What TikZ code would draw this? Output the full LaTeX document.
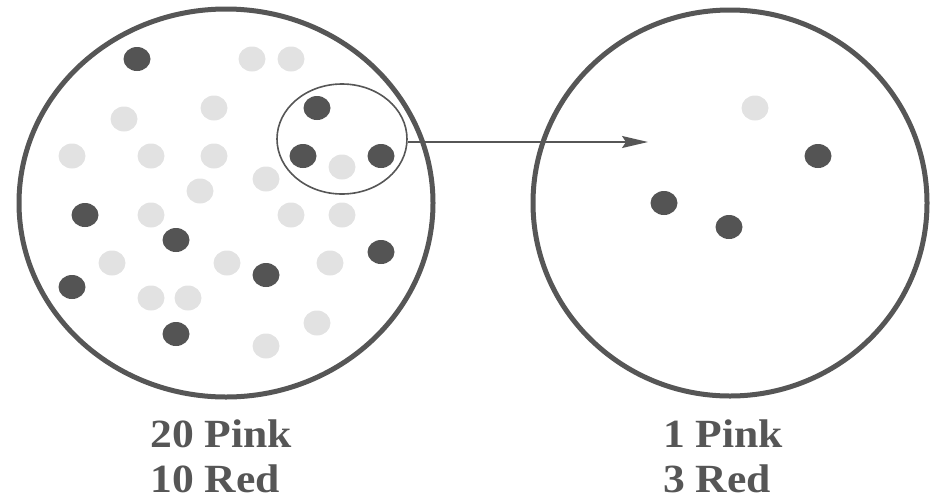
\documentclass[tikz,border=0pt]{standalone}
\usepackage{fontspec}
\setmainfont{Liberation Serif}
\newfontfamily\lblfont[FakeStretch=1.09]{Liberation Serif}
\usetikzlibrary{shapes.geometric,arrows.meta}
\definecolor{inkgray}{HTML}{565656}
\definecolor{pinkdot}{HTML}{E2E2E2}
\definecolor{reddot}{HTML}{545454}
\tikzset{
  jar/.style={draw=inkgray, line width=5pt, ellipse, inner sep=0pt},
  reddotstyle/.style={fill=reddot, ellipse, inner sep=0pt, minimum width=27pt, minimum height=24pt},
  pinkdotstyle/.style={fill=pinkdot, ellipse, inner sep=0pt, minimum width=27pt, minimum height=25pt},
  lbl/.style={text=inkgray, font=\lblfont\bfseries\fontsize{40}{45}\selectfont, anchor=base west, inner sep=0pt, text depth=0pt},
}
\begin{document}
\begin{tikzpicture}[x=1pt,y=-1pt]
\useasboundingbox (0,0) rectangle (933,499);
% jars
\node[jar, minimum width=414pt, minimum height=388pt] (left) at (226,203) {};
\node[jar, minimum width=394pt, minimum height=386pt] (right) at (730,203) {};
% red dots left
\foreach \x/\y [count=\i] in {137/59,317/108,303/156,381/156,85/215,176/240,381/252,72/287,266/275,176/334}
  \node[reddotstyle] (r\i) at (\x,\y) {};
% pink dots left
\foreach \x/\y [count=\i] in {252/59,291/59,214/108,124/119,72/156,151/156,214/156,342/167,266/179,200/191,151/215,291/215,342/215,112/263,227/263,330/263,151/298,188/298,317/323,266/346}
  \node[pinkdotstyle] (p\i) at (\x,\y) {};
% sample selection
\node[draw=inkgray, line width=1.6pt, ellipse, inner sep=0pt, minimum width=130pt, minimum height=110pt] (sel) at (342,139) {};
% right dots
\node[pinkdotstyle] (sp1) at (755,108) {};
\node[reddotstyle] (sr1) at (818,156) {};
\node[reddotstyle] (sr2) at (664,203) {};
\node[reddotstyle] (sr3) at (729,227) {};
% arrow
\coordinate (tip) at (648,142);
\draw[draw=inkgray, line width=1.6pt, -{Stealth[length=26pt,width=12pt,inset=4pt]}] (sel.east |- tip) -- (tip);
% labels
\node[lbl] (l1) at (150,447) {20 Pink};
\node[lbl] (l2) at (150,492) {10 Red};
\node[lbl] (l3) at (663,447) {1 Pink};
\node[lbl] (l4) at (663,492) {3 Red};
\end{tikzpicture}
\end{document}
